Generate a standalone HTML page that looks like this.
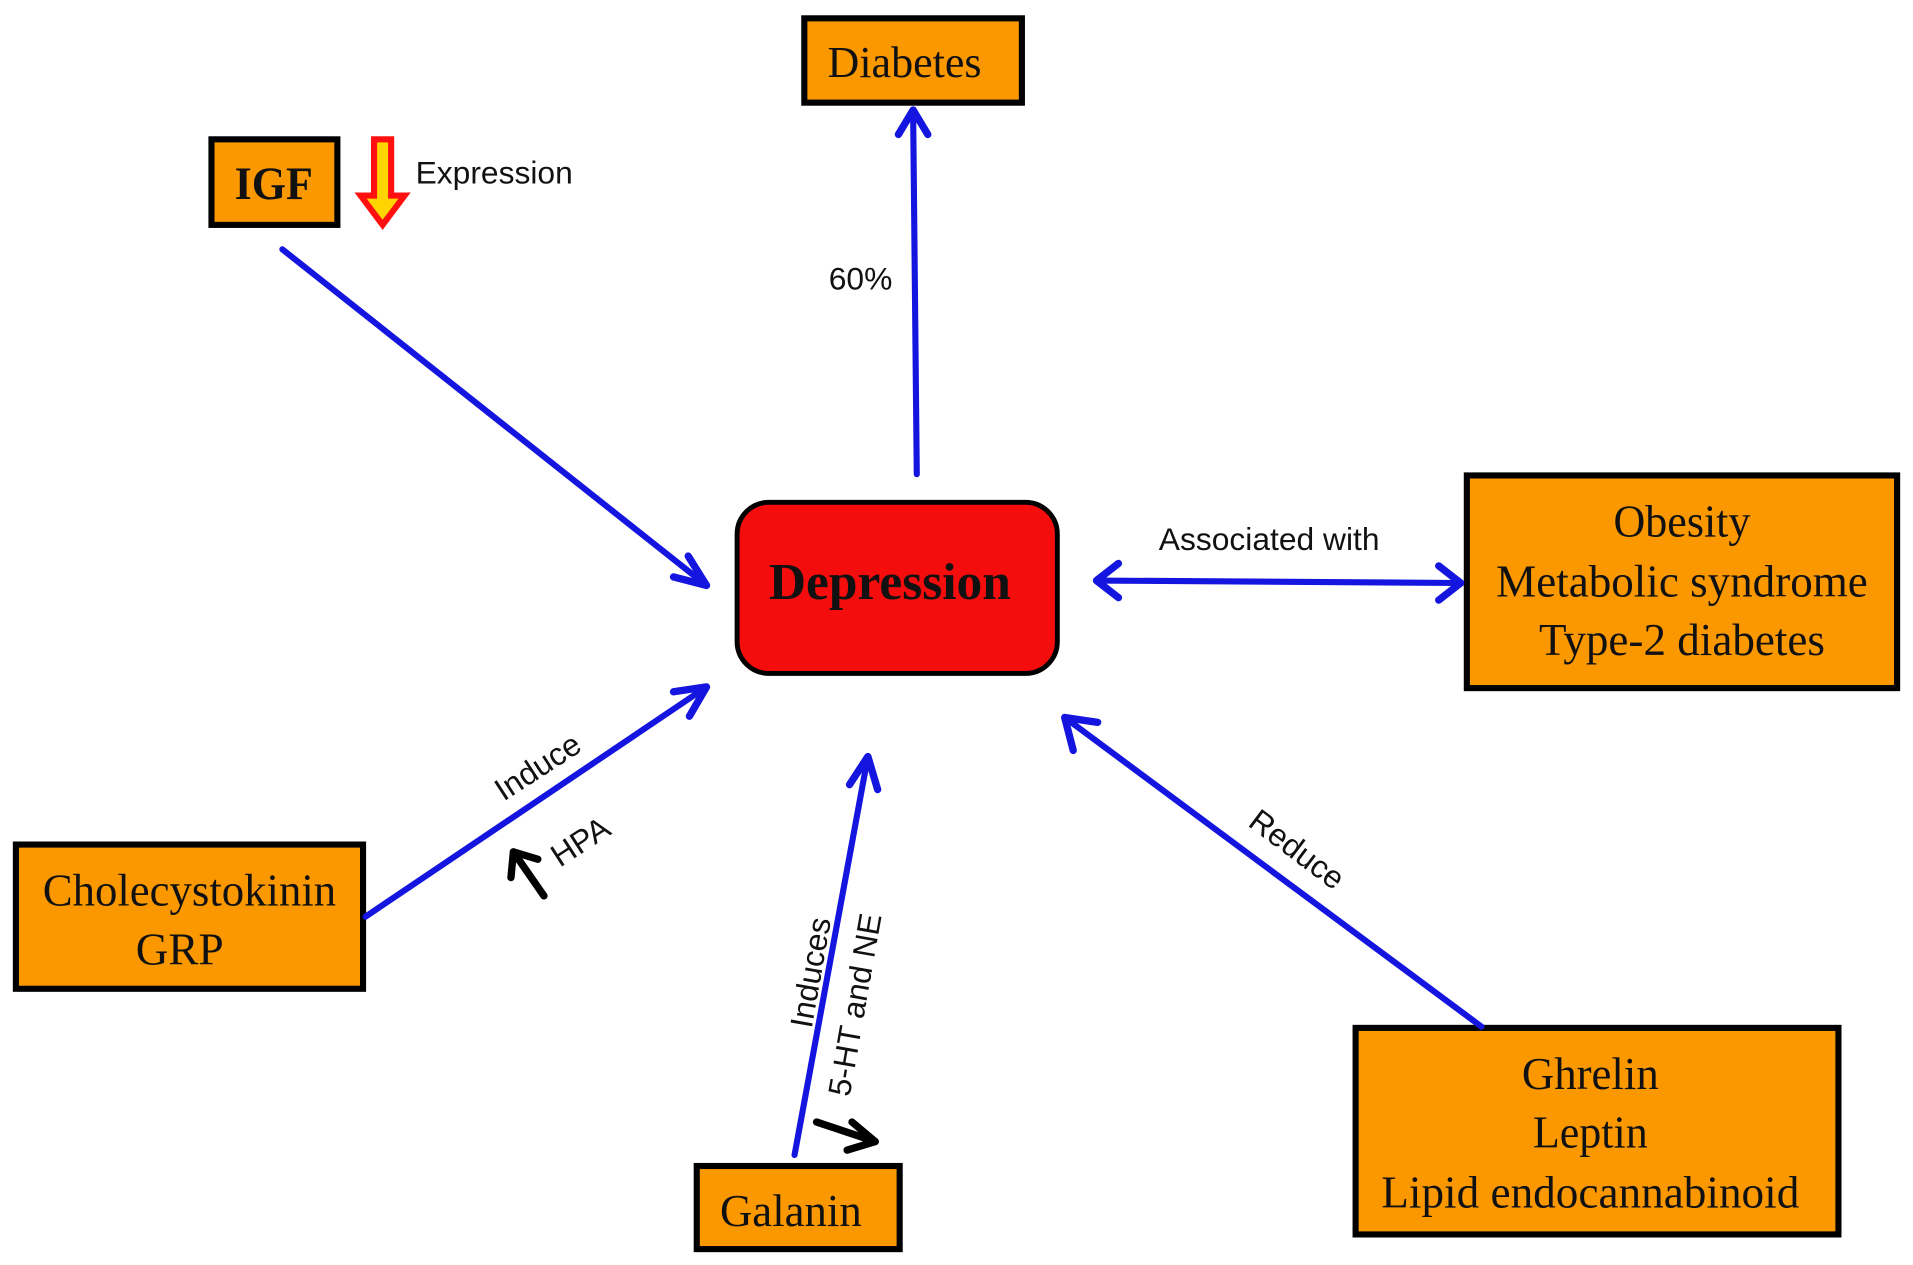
<!DOCTYPE html>
<html><head><meta charset="utf-8"><style>
html,body{margin:0;padding:0;background:#fff;width:1913px;height:1265px;overflow:hidden}
svg{display:block}
.t{font-family:"Liberation Serif",serif;fill:#111}
.s{font-family:"Liberation Sans",sans-serif;fill:#111;font-size:26px}
.box{fill:#fb9800;stroke:#000;stroke-width:5}
.ln{stroke:#1515e0;stroke-width:5;fill:none;stroke-linecap:round}
.hd{stroke:#1515e0;stroke-width:6;fill:none;stroke-linecap:round;stroke-linejoin:round}
.bk{stroke:#000;stroke-width:6;fill:none;stroke-linecap:round;stroke-linejoin:round}
</style></head><body>
<svg width="1913" height="1265" viewBox="0 0 1565 1035" preserveAspectRatio="none">
<rect class="box" x="658" y="15" width="178" height="69"/>
<text class="t" x="740" y="63" font-size="36" text-anchor="middle" textLength="126" lengthAdjust="spacingAndGlyphs">Diabetes</text>
<rect class="box" x="173" y="114" width="103" height="70"/>
<text class="t" x="224" y="163" font-size="38" font-weight="bold" text-anchor="middle" textLength="64" lengthAdjust="spacingAndGlyphs">IGF</text>
<path d="M306,114 L320,114 L320,160 L331,160 L313,184 L295,160 L306,160 Z" fill="#ffd400" stroke="#ff1010" stroke-width="5" stroke-linejoin="miter"/>
<text class="s" x="340" y="150">Expression</text>
<text class="s" x="678" y="237">60%</text>
<rect x="603" y="411" width="262" height="140" rx="26" fill="#f50d0d" stroke="#000" stroke-width="4"/>
<text class="t" x="728" y="490" font-size="42" font-weight="bold" text-anchor="middle" textLength="198" lengthAdjust="spacingAndGlyphs">Depression</text>
<rect class="box" x="1200" y="389" width="352" height="174"/>
<text class="t" x="1376" y="439" font-size="37" text-anchor="middle" textLength="112" lengthAdjust="spacingAndGlyphs">Obesity</text>
<text class="t" x="1376" y="488" font-size="37" text-anchor="middle" textLength="304" lengthAdjust="spacingAndGlyphs">Metabolic syndrome</text>
<text class="t" x="1376" y="536" font-size="37" text-anchor="middle" textLength="234" lengthAdjust="spacingAndGlyphs">Type-2 diabetes</text>
<text class="s" x="948" y="450">Associated with</text>
<rect class="box" x="13" y="691" width="284" height="118"/>
<text class="t" x="155" y="741" font-size="37" text-anchor="middle" textLength="240" lengthAdjust="spacingAndGlyphs">Cholecystokinin</text>
<text class="t" x="147" y="789" font-size="37" text-anchor="middle">GRP</text>
<rect class="box" x="570" y="954" width="166" height="68"/>
<text class="t" x="647" y="1003" font-size="37" text-anchor="middle" textLength="116" lengthAdjust="spacingAndGlyphs">Galanin</text>
<rect class="box" x="1109" y="841" width="395" height="169"/>
<text class="t" x="1301" y="891" font-size="37" text-anchor="middle" textLength="112" lengthAdjust="spacingAndGlyphs">Ghrelin</text>
<text class="t" x="1301" y="939" font-size="37" text-anchor="middle" textLength="94" lengthAdjust="spacingAndGlyphs">Leptin</text>
<text class="t" x="1301" y="988" font-size="37" text-anchor="middle" textLength="342" lengthAdjust="spacingAndGlyphs">Lipid endocannabinoid</text>
<line class="ln" x1="231" y1="204" x2="578" y2="479"/>
<polyline class="hd" points="563,455 578,479 551,472"/>
<line class="ln" x1="750" y1="388" x2="747" y2="90"/>
<polyline class="hd" points="735,110 747,90 759,110"/>
<line class="ln" x1="897" y1="475" x2="1195" y2="477"/>
<polyline class="hd" points="915,461 897,475 915,489"/>
<polyline class="hd" points="1177,463 1195,477 1177,491"/>
<line class="ln" x1="299" y1="750" x2="578" y2="562"/>
<polyline class="hd" points="551,566 578,562 564,586"/>
<line class="ln" x1="650" y1="945" x2="710" y2="619"/>
<polyline class="hd" points="695,642 710,619 718,646"/>
<line class="ln" x1="1212" y1="840" x2="871" y2="587"/>
<polyline class="hd" points="878,614 871,587 898,591"/>
<line class="bk" x1="445" y1="733" x2="420" y2="697"/>
<polyline class="bk" points="418,718 420,697 440,703"/>
<line class="bk" x1="668" y1="918" x2="716" y2="934"/>
<polyline class="bk" points="697,918 716,934 693,941"/>
<text class="s" transform="translate(412,656) rotate(-33)">Induce</text>
<text class="s" transform="translate(458,710) rotate(-33)">HPA</text>
<text class="s" transform="translate(664,842) rotate(-80)">Induces</text>
<text class="s" transform="translate(695,898) rotate(-80)">5-HT and NE</text>
<text class="s" transform="translate(1020,675) rotate(37)">Reduce</text>
</svg>
</body></html>
